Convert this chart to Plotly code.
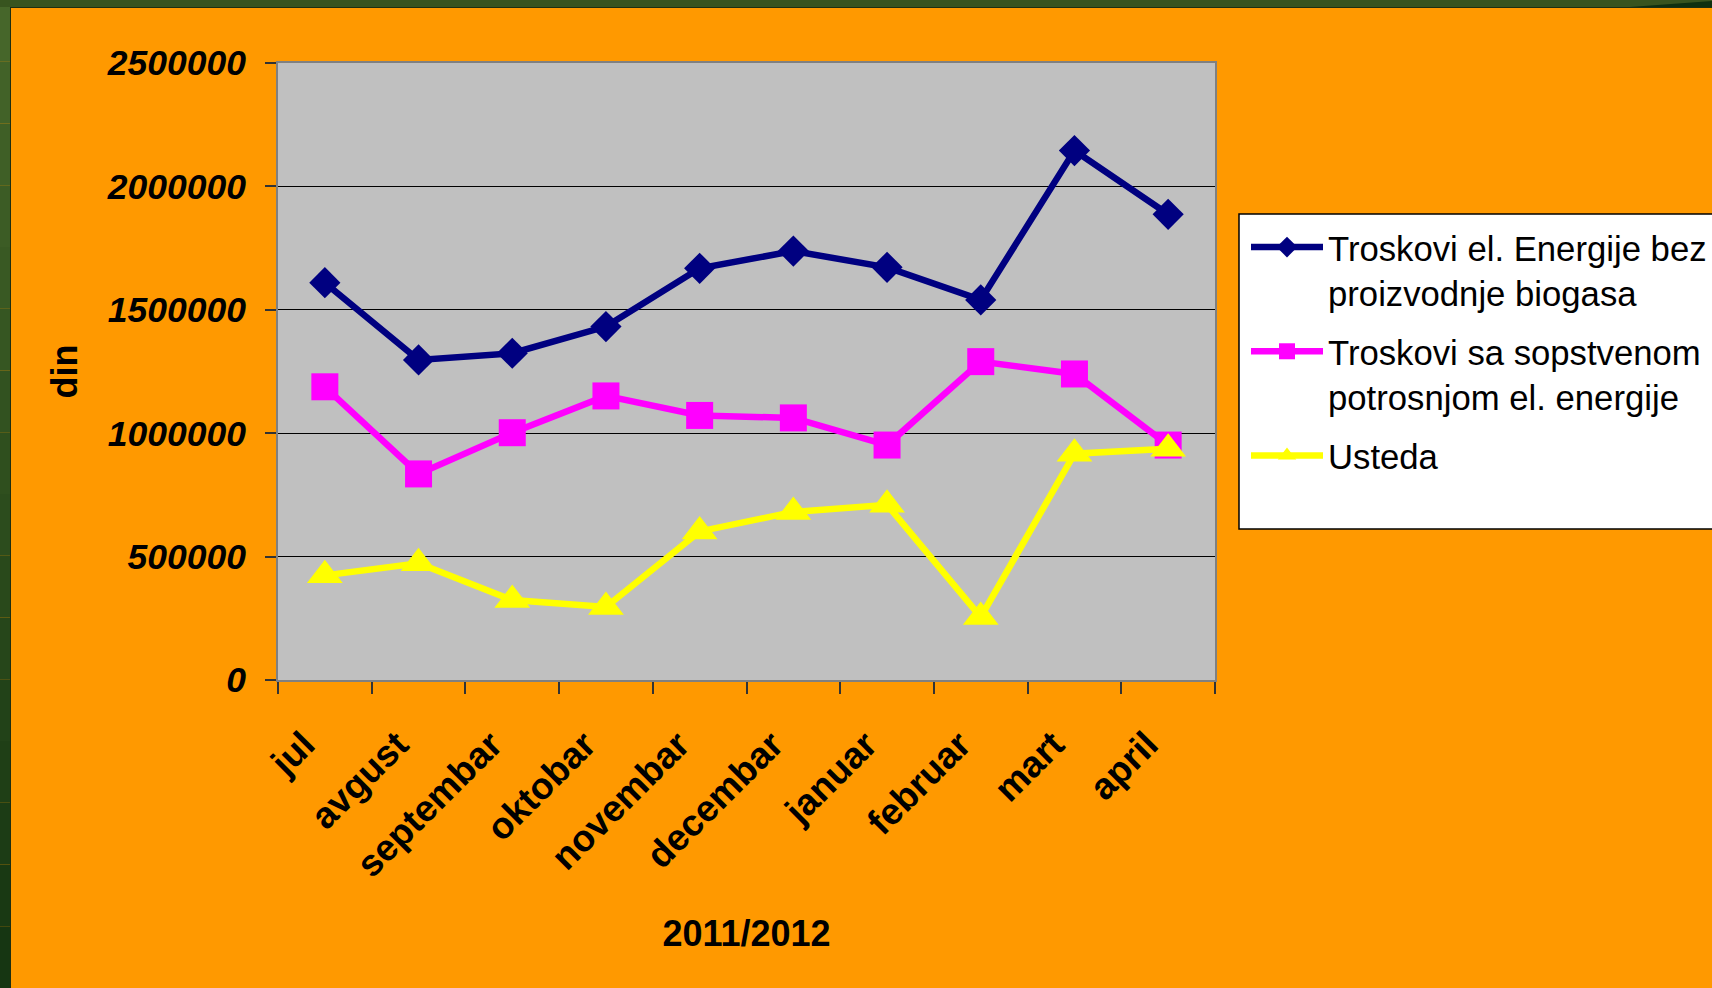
import plotly.graph_objects as go

# ---- data ----
months = ["jul", "avgust", "septembar", "oktobar", "novembar", "decembar",
          "januar", "februar", "mart", "april"]
troskovi_bez = [1610000, 1297000, 1324000, 1432000, 1668000, 1738000,
                1672000, 1540000, 2145000, 1887000]
troskovi_sa = [1188000, 835000, 1002000, 1151000, 1072000, 1062000,
               952000, 1290000, 1240000, 952000]
usteda = [424000, 473000, 324000, 296000, 602000, 681000,
          710000, 255000, 917000, 937000]
series_names = ["Troskovi el. Energije bez<br>proizvodnje biogasa",
                "Troskovi sa sopstvenom<br>potrosnjom el. energije",
                "Usteda"]
y_ticks = [0, 500000, 1000000, 1500000, 2000000, 2500000]

# ---- geometry (pixels) ----
W, H = 1712, 988
PL, PR, PT, PB = 278, 1215, 63, 680   # plot area edges
pw, ph = PR - PL, PB - PT


def px(x):
    return (x - PL) / pw


def py(y):
    return (PB - y) / ph


FONT = "Arial, Liberation Sans, sans-serif"
ORANGE = "#FF9900"

fig = go.Figure()
fig.add_trace(go.Scatter(
    x=months, y=troskovi_bez, name=series_names[0], mode="lines+markers",
    line=dict(color="#000080", width=6.5),
    marker=dict(symbol="diamond", size=24, color="#000080"),
    legendgroup="a"))
fig.add_trace(go.Scatter(
    x=months, y=troskovi_sa, name=series_names[1], mode="lines+markers",
    line=dict(color="#FF00FF", width=6.5),
    marker=dict(symbol="square", size=27, color="#FF00FF"),
    legendgroup="b"))
fig.add_trace(go.Scatter(
    x=months, y=usteda, name=series_names[2], mode="lines+markers",
    line=dict(color="#FFFF00", width=6.5),
    marker=dict(symbol="triangle-up", size=31, color="#FFFF00"),
    legendgroup="c"))

shapes = []
# legend box
shapes.append(dict(type="rect", xref="paper", yref="paper", layer="below",
                   x0=px(1239), x1=px(1730), y0=py(529), y1=py(214),
                   fillcolor="white", line=dict(color="black", width=1.5)))
# green frame: left strip with gradient
n = 16
top_c = (0x46, 0x66, 0x2A)
bot_c = (0x16, 0x36, 0x12)
for i in range(n):
    t = i / (n - 1)
    c = tuple(int(top_c[k] + (bot_c[k] - top_c[k]) * t) for k in range(3))
    shapes.append(dict(type="rect", xref="paper", yref="paper", layer="below",
                       x0=px(0), x1=px(10),
                       y0=py(H * (i + 1) / n), y1=py(H * i / n),
                       fillcolor="rgb(%d,%d,%d)" % c, line=dict(width=0)))
# top strip
shapes.append(dict(type="rect", xref="paper", yref="paper", layer="below",
                   x0=px(0), x1=px(W), y0=py(7), y1=py(0),
                   fillcolor="#38541F", line=dict(width=0)))
# thin dark edge lines
shapes.append(dict(type="line", xref="paper", yref="paper", layer="below",
                   x0=px(10), x1=px(W), y0=py(7.5), y1=py(7.5),
                   line=dict(color="#1E2E10", width=1)))
shapes.append(dict(type="line", xref="paper", yref="paper", layer="below",
                   x0=px(10.5), x1=px(10.5), y0=py(H), y1=py(7),
                   line=dict(color="#1E2E10", width=1)))
# top-right dark wedge
shapes.append(dict(type="path", xref="paper", yref="paper", layer="below",
                   path="M %f %f L %f %f L %f %f Z" % (
                       px(1630), py(7), px(W), py(1), px(W), py(7)),
                   fillcolor="#0F3010", line=dict(width=0)))

fig.update_layout(
    width=W, height=H,
    margin=dict(l=PL, r=W - PR, t=PT, b=H - PB, pad=0, autoexpand=False),
    paper_bgcolor=ORANGE,
    plot_bgcolor="#C0C0C0",
    font=dict(family=FONT, color="black"),
    shapes=shapes,
    showlegend=True,
    legend=dict(
        x=px(1246), xanchor="left", y=py(218), yanchor="top",
        bgcolor="rgba(0,0,0,0)", borderwidth=0,
        font=dict(family=FONT, size=34.7, color="black"),
        valign="top", itemwidth=72, tracegroupgap=11,
        itemclick=False, itemdoubleclick=False),
    xaxis=dict(
        type="category", range=[-0.5, 9.5],
        showgrid=False, zeroline=False,
        showline=True, linecolor="#808080", linewidth=2, mirror=True,
        ticks="outside", tickson="boundaries", ticklen=12,
        tickcolor="#333333", tickwidth=1.5,
        tickangle=-45,
        tickfont=dict(family=FONT, size=37, weight="bold", color="black"),
        ticklabelstandoff=26, ticklabelshift=-21,
        title=dict(text="2011/2012", standoff=37,
                   font=dict(family=FONT, size=36, weight="bold",
                             color="black")),
    ),
    yaxis=dict(
        range=[0, 2500000], tickvals=y_ticks, tickformat="d",
        showgrid=True, gridcolor="black", gridwidth=1,
        zeroline=False,
        showline=True, linecolor="#808080", linewidth=2, mirror=True,
        ticks="outside", ticklen=11, tickcolor="#333333", tickwidth=1.5,
        tickfont=dict(family=FONT, size=35.5, weight="bold", style="italic",
                      color="black"),
        ticklabelstandoff=12,
        title=dict(text="din", standoff=18,
                   font=dict(family=FONT, size=36, weight="bold",
                             color="black")),
    ),
)

fig.write_html("out.html",
               config={"displayModeBar": False},
               post_script="document.body.style.margin='0';"
                           "document.body.style.padding='0';"
                           "document.body.style.overflow='hidden';")
